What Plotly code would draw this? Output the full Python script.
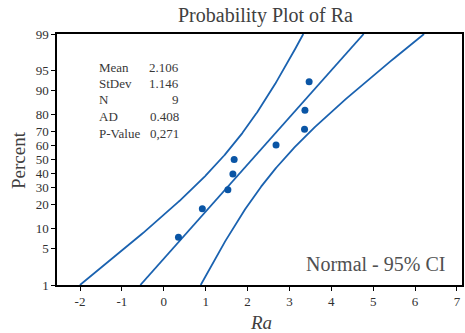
import plotly.graph_objects as go
from statistics import NormalDist
import math

# ---- data ----
ra_values = [0.35, 0.92, 1.53, 1.65, 1.68, 2.68, 3.36, 3.37, 3.47]
stat_labels = ["Mean", "StDev", "N", "AD", "P-Value"]
stat_values = ["2.106", "1.146", "9", "0.408", "0,271"]
mean_ra = 2.106
stdev_ra = 1.146
n_ra = 9
percent_ticks = [1, 5, 10, 20, 30, 40, 50, 60, 70, 80, 90, 95, 99]
x_ticks = [-2, -1, 0, 1, 2, 3, 4, 5, 6, 7]
x_tick_labels = ["-2", "-1", "0", "1", "2", "3", "4", "5", "6", "7"]

nd = NormalDist()
n = len(ra_values)
xs = sorted(ra_values)
pct = [(i + 1 - 0.3) / (n + 0.4) for i in range(n)]
zs = [nd.inv_cdf(p) for p in pct]

# fitted line and 95% CI from displayed Mean / StDev / N
zc = [nd.inv_cdf(0.01 + 0.98 * k / 200) for k in range(201)]
fit_x = [mean_ra + stdev_ra * z for z in zc]
se = [stdev_ra * math.sqrt(1 / n_ra + z * z / (2 * n_ra)) for z in zc]
lo_x = [f - 1.96 * s for f, s in zip(fit_x, se)]
hi_x = [f + 1.96 * s for f, s in zip(fit_x, se)]

line_col = "#1a62b0"
serif = "Liberation Serif, Times New Roman, serif"
txt_col = "#404040"

fig = go.Figure()
for xx in (lo_x, fit_x, hi_x):
    fig.add_trace(go.Scatter(x=xx, y=zc, mode="lines",
                             line=dict(color=line_col, width=1.8),
                             hoverinfo="skip", showlegend=False))
fig.add_trace(go.Scatter(x=xs, y=zs, mode="markers",
                         marker=dict(color="#0a55a5", size=7),
                         showlegend=False))

zmin, zmax = nd.inv_cdf(0.01), nd.inv_cdf(0.99)

fig.update_layout(
    width=465, height=333,
    margin=dict(l=57, r=3, t=34, b=48, autoexpand=False),
    paper_bgcolor="white", plot_bgcolor="white",
    font=dict(family=serif, color=txt_col, size=13),
    xaxis=dict(range=[-2.55, 7.12], tickvals=x_ticks, ticktext=x_tick_labels,
               ticks="outside", automargin=False,
               ticklen=4, tickcolor="black", showgrid=False, zeroline=False,
               showline=True, linecolor="black", linewidth=1.5, mirror=True,
               tickfont=dict(size=13, color="#303030")),
    yaxis=dict(range=[zmin, zmax], tickvals=[nd.inv_cdf(p / 100) for p in percent_ticks],
               ticktext=[str(p) for p in percent_ticks], ticks="outside", automargin=False,
               ticklen=4, tickcolor="black", showgrid=False, zeroline=False,
               showline=True, linecolor="black", linewidth=1.5, mirror=True,
               tickfont=dict(size=13, color="#303030")),
)

W, H, L, B = 405.0, 251.0, 57.0, 285.0
def px(x):
    return (x - L) / W
def py(y):
    return (B - y) / H

ann = []
ann.append(dict(text="Probability Plot of Ra", x=px(265), y=py(15), xref="paper", yref="paper",
                showarrow=False, font=dict(size=20, family=serif, color=txt_col),
                xanchor="center", yanchor="middle"))
ann.append(dict(text="Percent", x=px(18), y=py(160), xref="paper", yref="paper",
                showarrow=False, textangle=-90, font=dict(size=19, family=serif, color=txt_col),
                xanchor="center", yanchor="middle"))
ann.append(dict(text="<i>Ra</i>", x=px(261), y=py(322), xref="paper", yref="paper",
                showarrow=False, font=dict(size=19, family=serif, color=txt_col),
                xanchor="center", yanchor="middle"))
rows_y = [67, 83, 99, 116, 133]
for lab, val, yy in zip(stat_labels, stat_values, rows_y):
    ann.append(dict(text=lab, x=px(97), y=py(yy), xref="paper", yref="paper",
                    showarrow=False, font=dict(size=13, family=serif, color="#383838"),
                    xanchor="left", yanchor="middle"))
    ann.append(dict(text=val, x=px(181), y=py(yy), xref="paper", yref="paper",
                    showarrow=False, font=dict(size=13, family=serif, color="#383838"),
                    xanchor="right", yanchor="middle"))
ann.append(dict(text="Normal - 95% CI", x=px(447), y=py(264), xref="paper", yref="paper",
                showarrow=False, font=dict(size=20, family=serif, color="#505050"),
                xanchor="right", yanchor="middle"))
fig.update_layout(annotations=ann)

fig.write_html("out.html", config={"displayModeBar": False},
               post_script="document.body.style.margin='0';")
